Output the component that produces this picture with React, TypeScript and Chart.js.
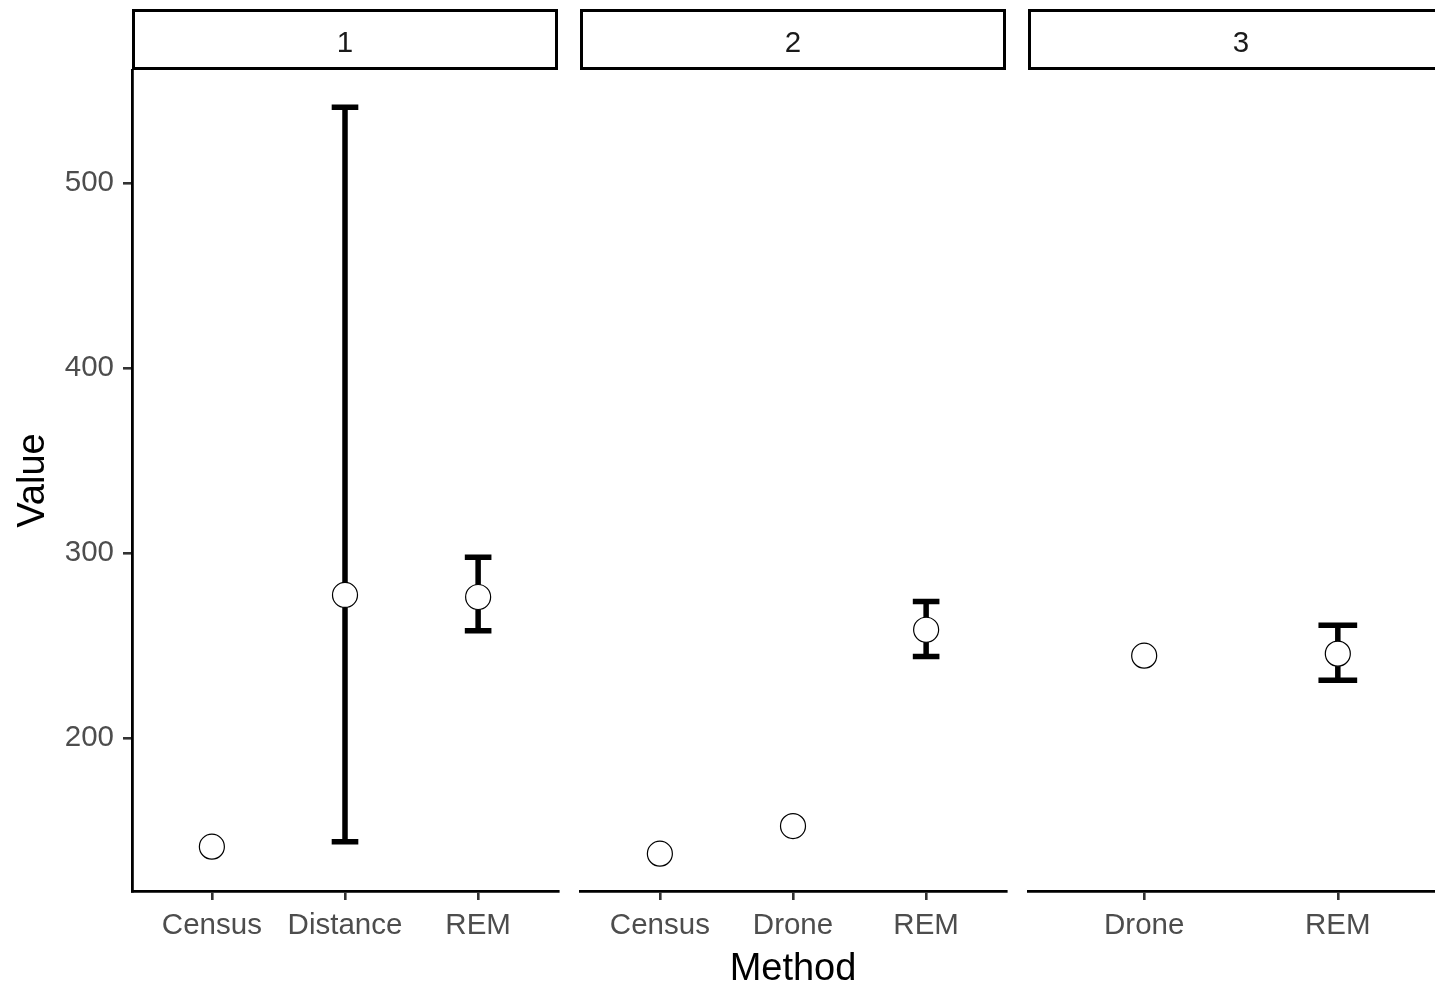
import React, { useEffect, useRef } from 'react';
import { Chart, registerables } from 'chart.js';

Chart.register(...registerables);

// Facet strip labels
const facetLabels = ['1', '2', '3'];

// Facet 1
const methods1 = ['Census', 'Distance', 'REM'];
const values1 = [141.4, 277.4, 276.3];
const lower1: (number | null)[] = [null, 144.0, 258.0];
const upper1: (number | null)[] = [null, 540.9, 297.8];

// Facet 2
const methods2 = ['Census', 'Drone', 'REM'];
const values2 = [137.6, 152.5, 258.6];
const lower2: (number | null)[] = [null, null, 244.2];
const upper2: (number | null)[] = [null, null, 273.8];

// Facet 3
const methods3 = ['Drone', 'REM'];
const values3 = [244.6, 245.7];
const lower3: (number | null)[] = [null, 231.3];
const upper3: (number | null)[] = [null, 261.1];

const yTicks = [200, 300, 400, 500];

const panels = [
  { label: facetLabels[0], methods: methods1, values: values1, lower: lower1, upper: upper1 },
  { label: facetLabels[1], methods: methods2, values: values2, lower: lower2, upper: upper2 },
  { label: facetLabels[2], methods: methods3, values: values3, lower: lower3, upper: upper3 },
];

// Shared y range: data extent plus 5% on each side
const allY: number[] = [];
panels.forEach((p) => {
  p.values.forEach((v) => allY.push(v));
  p.lower.forEach((v) => v != null && allY.push(v));
  p.upper.forEach((v) => v != null && allY.push(v));
});
const dataMin = Math.min(...allY);
const dataMax = Math.max(...allY);
const Y_MIN = dataMin - 0.05 * (dataMax - dataMin);
const Y_MAX = dataMax + 0.05 * (dataMax - dataMin);

// Layout
const PAGE_W = 1435;
const PAGE_H = 985;
const PLOT_TOP = 70;
const PLOT_BOTTOM = 891;
const PLOT_WIDTH = 426;
const PLOT_LEFTS = [132, 580, 1028];
const GAP = 20;
const CAP_WIDTH = 0.2; // error bar cap width in x units

const FONT = '"Liberation Sans", Arial, sans-serif';
const TICK_SIZE = 29.5;
const TITLE_SIZE = 38;

type Panel = (typeof panels)[number];

function Facet({ panel, index }: { panel: Panel; index: number }) {
  const ref = useRef<HTMLCanvasElement>(null);
  const plotLeft = PLOT_LEFTS[index];
  const canvasLeft = index === 0 ? 0 : plotLeft - GAP;
  const canvasWidth = plotLeft + PLOT_WIDTH + 2 - canvasLeft;

  useEffect(() => {
    if (!ref.current) return;
    const n = panel.methods.length;
    const points = panel.values.map((v, i) => ({ x: i + 1, y: v }));

    const decor = {
      id: 'facetDecor',
      beforeDatasetsDraw(chart: any) {
        const { ctx } = chart;
        const xs = chart.scales.x;
        const ys = chart.scales.y;
        ctx.save();
        ctx.strokeStyle = '#000';
        ctx.lineWidth = 5.5;
        ctx.lineCap = 'butt';
        panel.values.forEach((_, i) => {
          const lo = panel.lower[i];
          const hi = panel.upper[i];
          if (lo == null || hi == null) return;
          const cx = xs.getPixelForValue(i + 1);
          const half = xs.getPixelForValue(i + 1 + CAP_WIDTH / 2) - cx;
          const yl = ys.getPixelForValue(lo);
          const yh = ys.getPixelForValue(hi);
          ctx.beginPath();
          ctx.moveTo(cx - half, yh);
          ctx.lineTo(cx + half, yh);
          ctx.moveTo(cx, yh);
          ctx.lineTo(cx, yl);
          ctx.moveTo(cx - half, yl);
          ctx.lineTo(cx + half, yl);
          ctx.stroke();
        });
        ctx.restore();
      },
      afterDraw(chart: any) {
        const { ctx, chartArea } = chart;
        const { left, right } = chartArea;
        ctx.save();
        ctx.fillStyle = '#fff';
        ctx.fillRect(left + 1.5, 10.5, right - left - 3, 58);
        ctx.strokeStyle = '#000';
        ctx.lineWidth = 3;
        ctx.strokeRect(left + 1.5, 10.5, right - left - 3, 58);
        ctx.fillStyle = '#1a1a1a';
        ctx.font = `${TICK_SIZE}px ${FONT}`;
        ctx.textAlign = 'center';
        ctx.textBaseline = 'middle';
        ctx.fillText(panel.label, (left + right) / 2, 44);
        ctx.restore();
      },
    };

    const tickGrid = {
      display: true,
      drawOnChartArea: false,
      drawTicks: true,
      tickLength: 9,
      color: '#333333',
      lineWidth: 2.6,
    };
    const axisBorder = { display: true, color: '#000', width: 2.8 };

    const chart = new Chart(ref.current, {
      type: 'scatter',
      data: {
        datasets: [
          {
            data: points,
            pointRadius: 12.5,
            pointHoverRadius: 12.5,
            pointBorderWidth: 1.2,
            pointBorderColor: '#000',
            pointBackgroundColor: '#fff',
            showLine: false,
          },
        ],
      },
      options: {
        responsive: false,
        animation: false,
        devicePixelRatio: 1,
        events: [],
        layout: {
          autoPadding: false,
          padding: { top: PLOT_TOP, left: index === 0 ? 0 : GAP, right: 2, bottom: 0 },
        },
        plugins: { legend: { display: false }, tooltip: { enabled: false } },
        scales: {
          x: {
            type: 'linear',
            min: 0.4,
            max: n + 0.6,
            afterBuildTicks: (s: any) => {
              s.ticks = panel.methods.map((_, i) => ({ value: i + 1 }));
            },
            afterFit: (s: any) => {
              s.height = PAGE_H - PLOT_BOTTOM;
              s.paddingLeft = 0;
              s.paddingRight = 0;
              s.paddingTop = 0;
              s.paddingBottom = 0;
            },
            ticks: {
              autoSkip: false,
              maxRotation: 0,
              minRotation: 0,
              color: '#4d4d4d',
              padding: 8,
              font: { family: FONT, size: TICK_SIZE },
              callback: (_v: any, i: number) => panel.methods[i],
            },
            grid: tickGrid,
            border: axisBorder,
            title: {
              display: index === 1,
              text: 'Method',
              color: '#000',
              font: { family: FONT, size: TITLE_SIZE, lineHeight: 1 },
              padding: { top: 0, bottom: -4 },
            },
          },
          y: {
            type: 'linear',
            display: index === 0,
            min: Y_MIN,
            max: Y_MAX,
            afterBuildTicks: (s: any) => {
              s.ticks = yTicks.map((v) => ({ value: v }));
            },
            afterFit: (s: any) => {
              s.width = index === 0 ? PLOT_LEFTS[0] : 0;
              s.paddingLeft = 0;
              s.paddingRight = 0;
              s.paddingTop = 0;
              s.paddingBottom = 0;
            },
            ticks: {
              color: '#4d4d4d',
              padding: 9,
              font: { family: FONT, size: TICK_SIZE },
              callback: (v: any) => String(v),
            },
            grid: tickGrid,
            border: axisBorder,
            title: {
              display: true,
              text: 'Value',
              color: '#000',
              font: { family: FONT, size: TITLE_SIZE, lineHeight: 1 },
              padding: { top: 15, bottom: 0 },
            },
          },
        },
      },
      plugins: [decor],
    } as any);

    return () => chart.destroy();
  }, [panel, index]);

  return (
    <canvas
      ref={ref}
      width={canvasWidth}
      height={PAGE_H}
      style={{ position: 'absolute', left: canvasLeft, top: 0, width: canvasWidth, height: PAGE_H }}
    />
  );
}

export default function App() {
  return (
    <div
      style={{
        position: 'absolute',
        left: 0,
        top: 0,
        width: PAGE_W,
        height: PAGE_H,
        overflow: 'hidden',
        background: '#fff',
      }}
    >
      {panels.map((p, i) => (
        <Facet key={p.label} panel={p} index={i} />
      ))}
    </div>
  );
}
